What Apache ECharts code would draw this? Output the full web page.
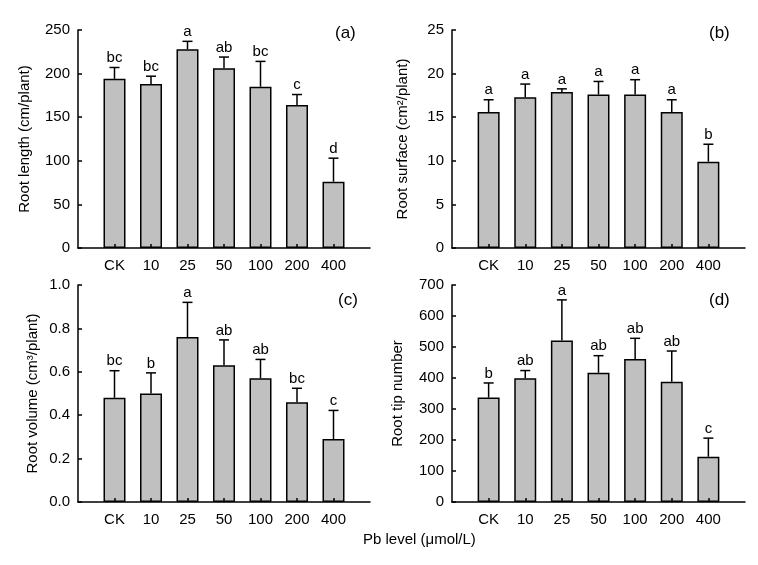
<!DOCTYPE html>
<html>
<head>
<meta charset="utf-8">
<script src="https://cdn.jsdelivr.net/npm/echarts@6/dist/echarts.min.js"></script>
<style>html,body{margin:0;padding:0;background:#fff}#c{width:758px;height:565px}</style>
</head>
<body>
<div id="c"></div>
<script>
var categories = ['CK', '10', '25', '50', '100', '200', '400'];

var lengthValues = [194, 188, 228, 206, 185, 164, 76];
var lengthErr = [13, 9, 9, 13, 29, 12, 27];
var lengthLetters = ['bc', 'bc', 'a', 'ab', 'bc', 'c', 'd'];

var surfaceValues = [15.6, 17.3, 17.9, 17.6, 17.6, 15.6, 9.9];
var surfaceErr = [1.4, 1.5, 0.35, 1.5, 1.7, 1.4, 2.0];
var surfaceLetters = ['a', 'a', 'a', 'a', 'a', 'a', 'b'];

var volumeValues = [0.48, 0.50, 0.76, 0.63, 0.57, 0.46, 0.29];
var volumeErr = [0.125, 0.095, 0.16, 0.117, 0.087, 0.064, 0.132];
var volumeLetters = ['bc', 'b', 'a', 'ab', 'ab', 'bc', 'c'];

var tipValues = [337, 399, 521, 417, 461, 388, 146];
var tipErr = [47, 25, 131, 55, 67, 99, 60];
var tipLetters = ['b', 'ab', 'a', 'ab', 'ab', 'ab', 'c'];

var FONT = 'Liberation Sans, Arial, sans-serif';
var FS = 15;

var panels = [
  {values: lengthValues, err: lengthErr, letters: lengthLetters, name: 'Root length (cm/plant)', max: 250, interval: 50, gap: 46, fmt: function(v){return String(v);}, tag: '(a)', grid: {left: 78, top: 30, width: 292, height: 218}},
  {values: surfaceValues, err: surfaceErr, letters: surfaceLetters, name: 'Root surface (cm²/plant)', max: 25, interval: 5, gap: 42, fmt: function(v){return String(v);}, tag: '(b)', grid: {left: 452, top: 30, width: 293, height: 218}},
  {values: volumeValues, err: volumeErr, letters: volumeLetters, name: 'Root volume (cm³/plant)', max: 1.0, interval: 0.2, gap: 38, fmt: function(v){return v.toFixed(1);}, tag: '(c)', grid: {left: 78, top: 285, width: 292, height: 217}},
  {values: tipValues, err: tipErr, letters: tipLetters, name: 'Root tip number', max: 700, interval: 100, gap: 47, fmt: function(v){return String(v);}, tag: '(d)', grid: {left: 452, top: 285, width: 293, height: 217}}
];

var tickPos = categories.map(function(c, i){ return i + 1; });

var grids = [], xAxes = [], yAxes = [], series = [];
panels.forEach(function(p, k) {
  grids.push(Object.assign({containLabel: false, outerBoundsMode: 'none'}, p.grid));
  xAxes.push({
    type: 'value', gridIndex: k, min: 0, max: 8, interval: 1, z: 5,
    axisLine: {lineStyle: {color: '#000', width: 1.5}},
    axisTick: {show: true, inside: true, length: 4, lineStyle: {color: '#000', width: 1.5}, customValues: tickPos},
    axisLabel: {color: '#000', fontSize: FS, fontFamily: FONT, margin: 10, customValues: tickPos,
      formatter: function(v){ return categories[Math.round(v) - 1] || ''; }},
    splitLine: {show: false}
  });
  yAxes.push({
    type: 'value', gridIndex: k, min: 0, max: p.max, interval: p.interval,
    name: p.name, nameLocation: 'middle', nameGap: p.gap,
    nameTextStyle: {color: '#000', fontSize: FS, fontFamily: FONT},
    axisLine: {show: true, lineStyle: {color: '#000', width: 1.5}},
    axisTick: {show: true, inside: true, length: 4, lineStyle: {color: '#000', width: 1.5}},
    axisLabel: {color: '#000', fontSize: FS, fontFamily: FONT, margin: 8, formatter: p.fmt},
    splitLine: {show: false}
  });
  series.push({
    type: 'bar', xAxisIndex: k, yAxisIndex: k, barWidth: 22,
    itemStyle: {color: '#c0c0c0', borderColor: '#000', borderWidth: 1.5},
    data: p.values.map(function(v, i){ return [i + 1, v]; }),
    silent: true, animation: false
  });
  series.push({
    type: 'custom', xAxisIndex: k, yAxisIndex: k, z: 3, animation: false, silent: true,
    data: p.values.map(function(v, i){ return [i + 1, v, v + p.err[i], i]; }),
    renderItem: function(params, api) {
      var x = api.value(0), v = api.value(1), e = api.value(2), idx = api.value(3);
      var a = api.coord([x, v]), b = api.coord([x, e]);
      var style = {stroke: '#000', lineWidth: 1.5};
      return {type: 'group', children: [
        {type: 'line', shape: {x1: a[0], y1: a[1], x2: b[0], y2: b[1]}, style: style},
        {type: 'line', shape: {x1: b[0] - 5, y1: b[1], x2: b[0] + 5, y2: b[1]}, style: style},
        {type: 'text', style: {text: p.letters[idx], x: b[0], y: b[1] - 2, textAlign: 'center', textVerticalAlign: 'bottom', fill: '#000', fontSize: FS, fontFamily: FONT}}
      ]};
    }
  });
});

var tagPos = [[335, 25], [709, 25], [338, 292], [709, 292]];
var graphics = panels.map(function(p, k){
  return {type: 'text', left: tagPos[k][0], top: tagPos[k][1], style: {text: p.tag, fill: '#000', fontSize: 17, fontFamily: FONT}};
});
graphics.push({type: 'text', left: 363, top: 532, style: {text: 'Pb level (μmol/L)', fill: '#000', fontSize: FS, fontFamily: FONT}});

var chart = echarts.init(document.getElementById('c'), null, {renderer: 'canvas'});
chart.setOption({
  backgroundColor: '#fff',
  animation: false,
  grid: grids, xAxis: xAxes, yAxis: yAxes, series: series,
  graphic: graphics
});
</script>
</body>
</html>
